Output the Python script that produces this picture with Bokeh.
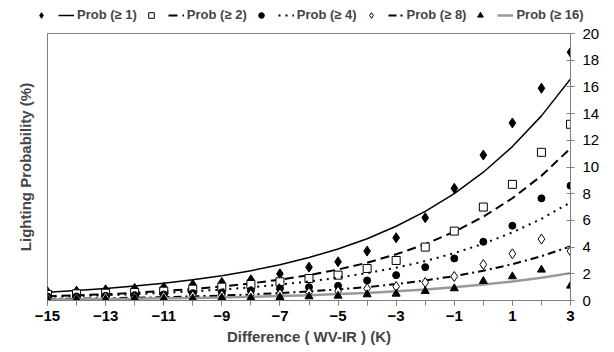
from bokeh.plotting import figure
from bokeh.layouts import column
from bokeh.models import Range1d, FixedTicker, Legend, LegendItem, Title
from bokeh.embed import file_html
from bokeh.resources import INLINE

x = list(range(-15, 4))
x_ticks = list(range(-15, 4, 2))
y_ticks = list(range(0, 21, 2))

obs_1 = [0.65, 0.7, 0.8, 0.9, 1.0, 1.2, 1.35, 1.55, 2.0, 2.5, 2.9, 3.7, 4.7, 6.2, 8.4, 10.9, 13.3, 15.9, 18.6]
fit_1 = [0.62, 0.75, 0.90, 1.08, 1.29, 1.55, 1.86, 2.23, 2.68, 3.22, 3.86, 4.63, 5.56, 6.67, 8.01, 9.61, 11.53, 13.83, 16.6]
obs_2 = [0.45, 0.5, 0.55, 0.6, 0.7, 0.85, 1.0, 1.2, 1.4, 1.65, 1.9, 2.4, 3.0, 4.0, 5.2, 7.0, 8.7, 11.1, 13.2]
fit_2 = [0.32, 0.39, 0.47, 0.58, 0.71, 0.86, 1.05, 1.28, 1.56, 1.9, 2.32, 2.83, 3.46, 4.22, 5.15, 6.28, 7.66, 9.34, 11.4]
obs_4 = [0.3, 0.3, 0.35, 0.4, 0.45, 0.55, 0.6, 0.75, 0.9, 1.0, 1.1, 1.5, 1.9, 2.5, 3.15, 4.4, 5.6, 7.65, 8.6]
fit_4 = [0.28, 0.33, 0.40, 0.48, 0.57, 0.69, 0.82, 0.99, 1.19, 1.42, 1.71, 2.05, 2.46, 2.95, 3.55, 4.25, 5.1, 6.12, 7.35]
obs_8 = [0.2, 0.2, 0.25, 0.25, 0.3, 0.35, 0.4, 0.45, 0.5, 0.6, 0.7, 0.9, 1.05, 1.35, 1.8, 2.7, 3.5, 4.6, 3.7]
fit_8 = [0.11, 0.14, 0.17, 0.21, 0.25, 0.31, 0.37, 0.45, 0.56, 0.68, 0.83, 1.0, 1.23, 1.5, 1.83, 2.23, 2.72, 3.32, 4.05]
obs_16 = [0.1, 0.1, 0.1, 0.15, 0.15, 0.15, 0.2, 0.2, 0.25, 0.3, 0.35, 0.45, 0.5, 0.7, 0.9, 1.45, 1.8, 2.3, 1.1]
fit_16 = [0.08, 0.09, 0.11, 0.13, 0.16, 0.19, 0.23, 0.28, 0.33, 0.40, 0.48, 0.57, 0.69, 0.82, 0.99, 1.19, 1.42, 1.71, 2.05]
labels = ["Prob (\u2265 1)", "Prob (\u2265 2)", "Prob (\u2265 4)", "Prob (\u2265 8)", "Prob (\u2265 16)"]

FONT = "Liberation Sans"
GRAY = "#808080"

styles = [
    (obs_1, fit_1, "diamond", 10, "black", "black", 1.5, "solid"),
    (obs_2, fit_2, "square", 8, "white", "black", 2, "9 5"),
    (obs_4, fit_4, "circle", 7, "black", "black", 2, "2 5"),
    (obs_8, fit_8, "diamond", 10, "white", "black", 2, "8 4 2 4"),
    (obs_16, fit_16, "triangle", 8, "black", "#999999", 2.5, "solid"),
]

# ---------- main plot ----------
p = figure(width=614, height=330, output_backend="svg", toolbar_location=None,
           x_range=Range1d(-15, 3), y_range=Range1d(0, 20),
           y_axis_location="right",
           min_border_left=46, min_border_top=11, min_border_right=44, min_border_bottom=52)
p.frame_align = False
p.grid.visible = False
p.outline_line_color = GRAY

xa = p.xaxis[0]
xa.ticker = FixedTicker(ticks=x_ticks, minor_ticks=x)
xa.axis_line_color = GRAY
xa.major_tick_line_color = GRAY
xa.minor_tick_line_color = GRAY
xa.major_tick_in = 0
xa.major_tick_out = 5
xa.minor_tick_in = 0
xa.minor_tick_out = 5
xa.major_label_text_font = FONT
xa.major_label_text_font_style = "bold"
xa.major_label_text_font_size = "15px"
xa.major_label_text_color = "black"
xa.axis_label = "Difference ( WV-IR ) (K)"
xa.axis_label_text_font = FONT
xa.axis_label_text_font_style = "bold"
xa.axis_label_text_font_size = "15px"
xa.axis_label_standoff = 4

ya = p.yaxis[0]
ya.ticker = FixedTicker(ticks=y_ticks)
ya.axis_line_color = GRAY
ya.major_tick_line_color = GRAY
ya.minor_tick_line_color = None
ya.major_tick_in = 4
ya.major_tick_out = 4
ya.major_label_standoff = 8
ya.major_label_text_font = FONT
ya.major_label_text_font_size = "15px"
ya.major_label_text_color = "black"

p.add_layout(Title(text="Lighting Probability (%)", align="center", text_font=FONT,
                   text_font_size="15px", text_font_style="bold", standoff=28), "left")

for obs, fit, mk, sz, fill, lc, lw, dash in styles:
    p.line(x, fit, line_color=lc, line_width=lw, line_dash=dash)
    p.scatter(x, obs, marker=mk, size=sz, fill_color=fill, line_color="black")

# ---------- legend strip (its own small figure above the plot) ----------
lg = figure(width=614, height=22, output_backend="svg", toolbar_location=None,
            x_range=Range1d(100, 101), y_range=Range1d(100, 101),
            x_axis_type=None, y_axis_type=None,
            min_border_left=0, min_border_right=0, min_border_top=0, min_border_bottom=0)
lg.frame_align = False
lg.grid.visible = False
lg.outline_line_color = None

items = []
for (obs, fit, mk, sz, fill, lc, lw, dash), lab in zip(styles, labels):
    # stand-in renderers (their points lie outside this strip's ranges)
    sr = lg.scatter(x[:1], obs[:1], marker=mk, size=sz - 2, fill_color=fill, line_color="black")
    lr = lg.line(x[:2], fit[:2], line_color=lc, line_width=lw, line_dash=dash)
    items.append(LegendItem(label="", renderers=[sr]))
    items.append(LegendItem(label=lab, renderers=[lr]))

legend = Legend(items=items, orientation="horizontal", location=(33, 0),
                glyph_width=16, glyph_height=14, label_standoff=3, spacing=6,
                label_width=0, label_height=14,
                label_text_font=FONT, label_text_font_style="bold", label_text_font_size="13px",
                padding=0, margin=0, border_line_color=None, background_fill_alpha=0)
lg.add_layout(legend, "center")

layout = column(lg, p, spacing=0)
open("out.html", "w").write(file_html(layout, INLINE))
